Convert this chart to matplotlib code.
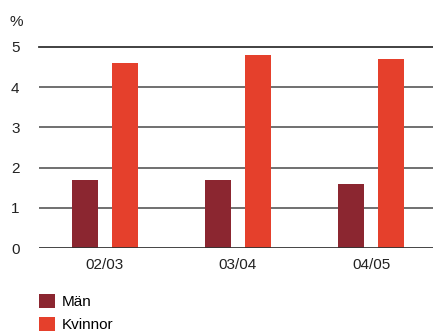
import numpy as np
import matplotlib
matplotlib.use("Agg")
import matplotlib.pyplot as plt

plt.rcParams['font.family'] = ['Liberation Sans', 'DejaVu Sans']

periods = ["02/03", "03/04", "04/05"]
man = [1.7, 1.7, 1.6]
kvinnor = [4.6, 4.8, 4.7]
series_labels = ["Män", "Kvinnor"]
yticks = [0, 1, 2, 3, 4, 5]

W, H = 433, 333
fig = plt.figure(figsize=(W / 100, H / 100), dpi=100)
ax = fig.add_axes([39 / W, 1 - 248 / H, 1 - 39 / W, (248 - 47) / H])

x = np.arange(len(periods))
bw = 0.195
b1 = ax.bar(x - 0.15, man, bw, color="#8b2630", label=series_labels[0], zorder=3)
b2 = ax.bar(x + 0.15, kvinnor, bw, color="#e5402c", label=series_labels[1], zorder=3)

# grid lines
for v in yticks:
    if v == 0:
        ax.axhline(v, color="#333333", lw=2.0, zorder=4)
    elif v == yticks[-1]:
        ax.axhline(v, color="#333333", lw=1.3, zorder=2, clip_on=False)
    else:
        ax.axhline(v, color="#707070", lw=1.4, zorder=2)

ax.set_xlim(-0.496, 2.466)
ax.set_ylim(0, 5)
ax.set_yticks(yticks)
ax.set_xticks(x)
ax.set_xticklabels(periods)
for s in ax.spines.values():
    s.set_visible(False)
ax.tick_params(axis="y", length=0, pad=14, labelsize=11, labelcolor="#222222")
ax.tick_params(axis="x", length=0, pad=7, labelsize=11, labelcolor="#222222")

fig.text(9 / W, 1 - 22 / H, "%", fontsize=11, color="#222222", va="center", ha="left")

fig.legend(handles=[b1, b2], loc="upper left",
           bbox_to_anchor=(39 / W, 1 - 294 / H), frameon=False,
           handlelength=1.05, handleheight=1.05, handletextpad=0.45,
           labelspacing=0.5, borderpad=0, borderaxespad=0, fontsize=11)

fig.savefig("out.png", dpi=100)
